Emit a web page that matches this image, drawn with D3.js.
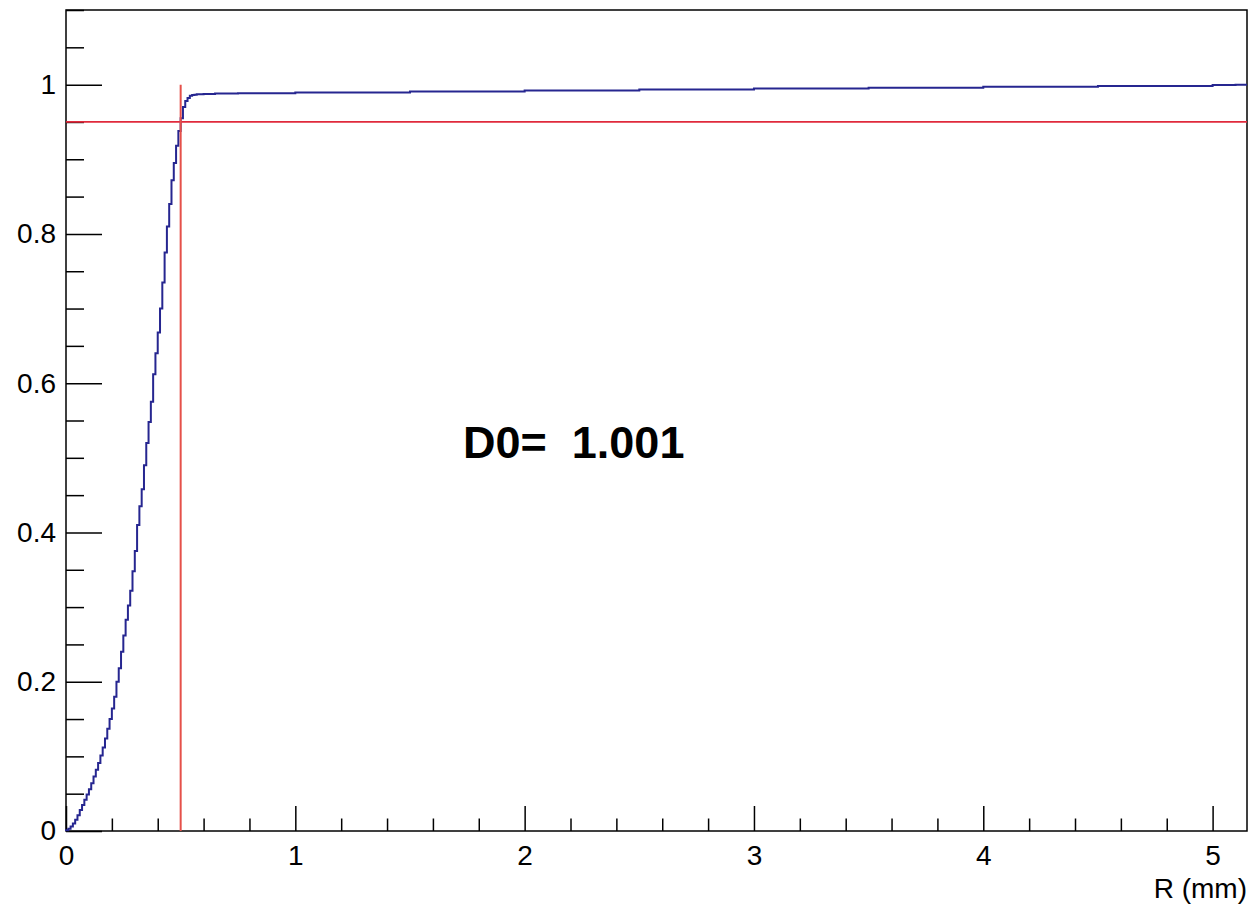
<!DOCTYPE html>
<html>
<head>
<meta charset="utf-8">
<script src="https://cdn.jsdelivr.net/npm/d3@7"></script>
<style>
html,body{margin:0;padding:0;background:#fff;}
svg{display:block;font-family:"Liberation Sans",Arial,Helvetica,sans-serif;}
</style>
</head>
<body>
<svg id="chart" width="1250" height="906"></svg>
<script>
// ---- data ----
// cumulative fraction vs radius R (mm); step histogram, left bin edges
const rEdges = [
  0.00,0.01,0.02,0.03,0.04,0.05,0.06,0.07,0.08,0.09,
  0.10,0.11,0.12,0.13,0.14,0.15,0.16,0.17,0.18,0.19,
  0.20,0.21,0.22,0.23,0.24,0.25,0.26,0.27,0.28,0.29,
  0.30,0.31,0.32,0.33,0.34,0.35,0.36,0.37,0.38,0.39,
  0.40,0.41,0.42,0.43,0.44,0.45,0.46,0.47,0.48,0.49,
  0.50,0.51,0.52,0.53,0.54,0.55,0.56,0.57,0.58,0.60,
  0.65,0.75,1.00,1.50,2.00,2.50,3.00,3.50,4.00,4.50,
  5.00,5.10
];
const cumFraction = [
  0.001,0.003,0.006,0.010,0.015,0.021,0.028,0.035,0.042,0.049,
  0.056,0.064,0.073,0.082,0.091,0.101,0.112,0.124,0.137,0.150,
  0.164,0.180,0.200,0.218,0.240,0.262,0.283,0.302,0.322,0.348,
  0.375,0.410,0.435,0.458,0.490,0.520,0.548,0.575,0.612,0.640,
  0.668,0.700,0.735,0.775,0.810,0.840,0.872,0.895,0.918,0.938,
  0.955,0.970,0.978,0.982,0.985,0.986,0.9865,0.987,0.987,0.9875,
  0.988,0.9885,0.9893,0.9907,0.9921,0.9934,0.9947,0.9959,0.9971,0.9983,
  0.9995,1.000
];
const xDomain = [0, 5.15];
const yDomain = [0, 1.1];
const xMajorTicks = [0, 1, 2, 3, 4, 5];
const xMajorLabels = ["0", "1", "2", "3", "4", "5"];
const yMajorTicks = [0, 0.2, 0.4, 0.6, 0.8, 1];
const yMajorLabels = ["0", "0.2", "0.4", "0.6", "0.8", "1"];
const cutR = 0.5;        // vertical red line
const cutFraction = 0.95; // horizontal red line
const annotation = "D0=  1.001";
const xTitle = "R (mm)";

// ---- layout ----
const W = 1250, H = 906;
const m = {left: 66, top: 10, right: 3, bottom: 75};
const svg = d3.select("#chart");
const x = d3.scaleLinear().domain(xDomain).range([m.left, W - m.right]);
const y = d3.scaleLinear().domain(yDomain).range([H - m.bottom, m.top]);

// frame
svg.append("rect")
  .attr("x", x(xDomain[0])).attr("y", y(yDomain[1]))
  .attr("width", x(xDomain[1]) - x(xDomain[0]))
  .attr("height", y(yDomain[0]) - y(yDomain[1]))
  .attr("fill", "none").attr("stroke", "#000").attr("stroke-width", 1.5);

// x axis
const xMinor = d3.range(0, 5.15, 0.2).filter(v => Math.abs(v - Math.round(v)) > 1e-6);
const xAxisMajor = d3.axisBottom(x).tickValues(xMajorTicks)
  .tickFormat((d, i) => xMajorLabels[i]).tickSizeInner(-25).tickSizeOuter(0).tickPadding(14);
const gx = svg.append("g").attr("transform", `translate(0,${y(0)})`).call(xAxisMajor);
gx.select(".domain").remove();
gx.selectAll("line").attr("stroke", "#000").attr("stroke-width", 1.5);
gx.selectAll("text").attr("font-size", 28).attr("fill", "#000");
const gxm = svg.append("g").attr("transform", `translate(0,${y(0)})`)
  .call(d3.axisBottom(x).tickValues(xMinor).tickFormat("").tickSizeInner(-12.5).tickSizeOuter(0));
gxm.select(".domain").remove();
gxm.selectAll("line").attr("stroke", "#000").attr("stroke-width", 1.5);

// y axis
const yMinor = d3.range(0, 1.1001, 0.05).filter(v => Math.abs(v * 5 - Math.round(v * 5)) > 1e-6);
const yAxisMajor = d3.axisLeft(y).tickValues(yMajorTicks)
  .tickFormat((d, i) => yMajorLabels[i]).tickSizeInner(-36).tickSizeOuter(0).tickPadding(10);
const gy = svg.append("g").attr("transform", `translate(${x(0)},0)`).call(yAxisMajor);
gy.select(".domain").remove();
gy.selectAll("line").attr("stroke", "#000").attr("stroke-width", 1.5);
gy.selectAll("text").attr("font-size", 28).attr("fill", "#000");
const gym = svg.append("g").attr("transform", `translate(${x(0)},0)`)
  .call(d3.axisLeft(y).tickValues(yMinor).tickFormat("").tickSizeInner(-18).tickSizeOuter(0));
gym.select(".domain").remove();
gym.selectAll("line").attr("stroke", "#000").attr("stroke-width", 1.5);

// x title
svg.append("text").attr("x", x(xDomain[1])).attr("y", 898)
  .attr("text-anchor", "end").attr("font-size", 28).attr("fill", "#000").text(xTitle);

// step curve
const pts = [[0, 0]].concat(rEdges.map((r, i) => [r, cumFraction[i]]));
pts.push([xDomain[1], cumFraction[cumFraction.length - 1]]);
const line = d3.line().x(d => x(d[0])).y(d => y(d[1])).curve(d3.curveStepAfter);
svg.append("path").datum(pts).attr("d", line)
  .attr("fill", "none").attr("stroke", "#262690").attr("stroke-width", 2);

// red cut lines
svg.append("line")
  .attr("x1", x(xDomain[0])).attr("x2", x(xDomain[1]))
  .attr("y1", y(cutFraction)).attr("y2", y(cutFraction))
  .attr("stroke", "#e02a3c").attr("stroke-width", 1.8);
svg.append("line")
  .attr("x1", x(cutR)).attr("x2", x(cutR))
  .attr("y1", y(0)).attr("y2", y(1))
  .attr("stroke", "#e5504a").attr("stroke-width", 2);

// annotation
svg.append("text").attr("x", 463).attr("y", 458)
  .attr("font-size", 45).attr("font-weight", "bold").attr("fill", "#000")
  .style("white-space", "pre").text(annotation);
</script>
</body>
</html>
